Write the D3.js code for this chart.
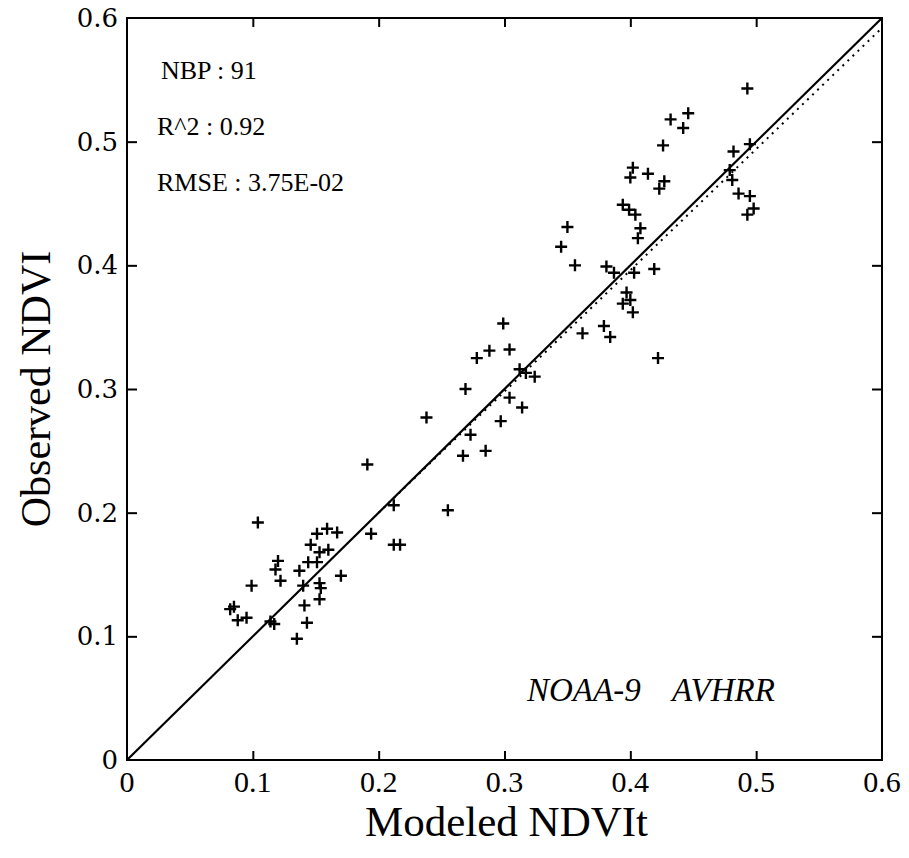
<!DOCTYPE html>
<html>
<head>
<meta charset="utf-8">
<script src="https://cdn.jsdelivr.net/npm/d3@7"></script>
<style>
  html, body { margin: 0; padding: 0; background: #fff; }
  svg { display: block; }
  .serif { font-family: "Liberation Serif", "Times New Roman", serif; }
  .slab { font-family: "DejaVu Serif", serif; }
</style>
</head>
<body>
<div id="chart"></div>
<script>
// Modeled NDVIt (x) vs observed NDVI (y)
const modeled = [
  0.104, 0.151, 0.159, 0.167, 0.194, 0.212, 0.212, 0.217, 0.146, 0.153,
  0.160, 0.120, 0.144, 0.151, 0.118, 0.137, 0.122, 0.099, 0.170, 0.140,
  0.153, 0.154, 0.153, 0.141, 0.085, 0.082, 0.088, 0.095, 0.114, 0.117,
  0.143, 0.135, 0.191, 0.255, 0.238, 0.267, 0.285, 0.273, 0.297, 0.269,
  0.304, 0.314, 0.312, 0.317, 0.324, 0.278, 0.288, 0.304, 0.299, 0.362,
  0.379, 0.384, 0.422, 0.397, 0.400, 0.394, 0.402, 0.356, 0.381, 0.387,
  0.403, 0.419, 0.345, 0.350, 0.406, 0.408, 0.394, 0.399, 0.404, 0.423,
  0.427, 0.414, 0.400, 0.402, 0.426, 0.442, 0.432, 0.446, 0.493, 0.482,
  0.495, 0.479, 0.481, 0.486, 0.495, 0.498, 0.493
];
const observed = [
  0.192, 0.183, 0.187, 0.184, 0.183, 0.206, 0.174, 0.174, 0.174, 0.168,
  0.170, 0.161, 0.160, 0.160, 0.154, 0.153, 0.145, 0.141, 0.149, 0.141,
  0.143, 0.139, 0.130, 0.125, 0.124, 0.122, 0.113, 0.115, 0.112, 0.110,
  0.111, 0.098, 0.239, 0.202, 0.277, 0.246, 0.250, 0.263, 0.274, 0.300,
  0.293, 0.285, 0.316, 0.313, 0.310, 0.325, 0.331, 0.332, 0.353, 0.345,
  0.351, 0.342, 0.325, 0.378, 0.372, 0.369, 0.362, 0.400, 0.399, 0.394,
  0.394, 0.397, 0.415, 0.431, 0.422, 0.430, 0.449, 0.445, 0.441, 0.462,
  0.468, 0.474, 0.471, 0.479, 0.497, 0.511, 0.518, 0.523, 0.543, 0.492,
  0.498, 0.477, 0.469, 0.458, 0.456, 0.446, 0.441
];
const xTicks = [0, 0.1, 0.2, 0.3, 0.4, 0.5, 0.6];
const yTicks = [0, 0.1, 0.2, 0.3, 0.4, 0.5, 0.6];
const statLabels = ["NBP : 91", "R^2 : 0.92", "RMSE : 3.75E-02"];
const sensorLabels = ["NOAA-9", "AVHRR"];
// dotted regression line
const fitSlope = 0.98;
const fitIntercept = 0.004;
const fitRange = [0.2, 0.6];

const width = 909, height = 858;
const margin = { top: 18, right: 27, bottom: 98, left: 127 };

const svg = d3.select("#chart").append("svg")
  .attr("width", width).attr("height", height);

const x = d3.scaleLinear().domain([0, 0.6]).range([margin.left, width - margin.right]);
const y = d3.scaleLinear().domain([0, 0.6]).range([height - margin.bottom, margin.top]);

const fmt = (d) => (d === 0 ? "0" : d3.format(".1f")(d));

// inward ticks on all four sides
const inner = xTicks.slice(1, -1);
svg.append("g").attr("transform", `translate(0,${y(0)})`)
  .call(d3.axisTop(x).tickValues(inner).tickSize(9).tickFormat(""))
  .call((g) => g.select(".domain").remove());
svg.append("g").attr("transform", `translate(0,${y(0.6)})`)
  .call(d3.axisBottom(x).tickValues(inner).tickSize(9).tickFormat(""))
  .call((g) => g.select(".domain").remove());
svg.append("g").attr("transform", `translate(${x(0)},0)`)
  .call(d3.axisRight(y).tickValues(yTicks.slice(1, -1)).tickSize(10).tickFormat(""))
  .call((g) => g.select(".domain").remove());
svg.append("g").attr("transform", `translate(${x(0.6)},0)`)
  .call(d3.axisLeft(y).tickValues(yTicks.slice(1, -1)).tickSize(10).tickFormat(""))
  .call((g) => g.select(".domain").remove());
svg.selectAll(".tick line").attr("stroke", "#000").attr("stroke-width", 2);

// frame
svg.append("rect")
  .attr("x", x(0)).attr("y", y(0.6))
  .attr("width", x(0.6) - x(0)).attr("height", y(0) - y(0.6))
  .attr("fill", "none").attr("stroke", "#000").attr("stroke-width", 2);

// tick labels
svg.append("g").attr("class", "serif").selectAll("text").data(xTicks).join("text")
  .attr("x", (d) => x(d)).attr("y", y(0) + 32)
  .attr("text-anchor", "middle")
  .style("font-size", "30px")
  .text(fmt);
svg.append("g").attr("class", "slab").selectAll("text").data(yTicks).join("text")
  .attr("x", x(0) - 9).attr("y", (d) => y(d) + 9)
  .attr("text-anchor", "end")
  .style("font-size", "26px")
  .text(fmt);

// axis titles
svg.append("text").attr("class", "serif")
  .attr("x", (x(0) + x(0.6)) / 2 + 2).attr("y", 836)
  .attr("text-anchor", "middle")
  .style("font-size", "43px")
  .text("Modeled NDVIt");
svg.append("text").attr("class", "serif")
  .attr("transform", `translate(50,${(y(0) + y(0.6)) / 2}) rotate(-90)`)
  .attr("text-anchor", "middle")
  .style("font-size", "42px")
  .text("Observed NDVI");

// 1:1 line and regression line
const line = d3.line().x((d) => x(d[0])).y((d) => y(d[1]));
svg.append("path")
  .attr("d", line([[0, 0], [0.6, 0.6]]))
  .attr("fill", "none").attr("stroke", "#000").attr("stroke-width", 2.2);
svg.append("path")
  .attr("d", line(fitRange.map((v) => [v, fitIntercept + fitSlope * v])))
  .attr("fill", "none").attr("stroke", "#000").attr("stroke-width", 2)
  .attr("stroke-dasharray", "2,5");

// points
const plus = "M-6,0H6M0,-6V6";
svg.append("g").selectAll("path").data(modeled).join("path")
  .attr("transform", (d, i) => `translate(${x(d)},${y(observed[i])})`)
  .attr("d", plus)
  .attr("stroke", "#000").attr("stroke-width", 2.4).attr("fill", "none");

// statistics
svg.append("g").attr("class", "serif").selectAll("text").data(statLabels).join("text")
  .attr("x", (d, i) => (i === 0 ? 161 : 157))
  .attr("y", (d, i) => 79 + i * 56)
  .style("font-size", "26px")
  .text((d) => d);

// sensor label
svg.append("g").attr("class", "serif").selectAll("text").data(sensorLabels).join("text")
  .attr("x", (d, i) => (i === 0 ? 527 : 672))
  .attr("y", 701)
  .style("font-size", "33px").style("font-style", "italic")
  .text((d) => d);
</script>
</body>
</html>
